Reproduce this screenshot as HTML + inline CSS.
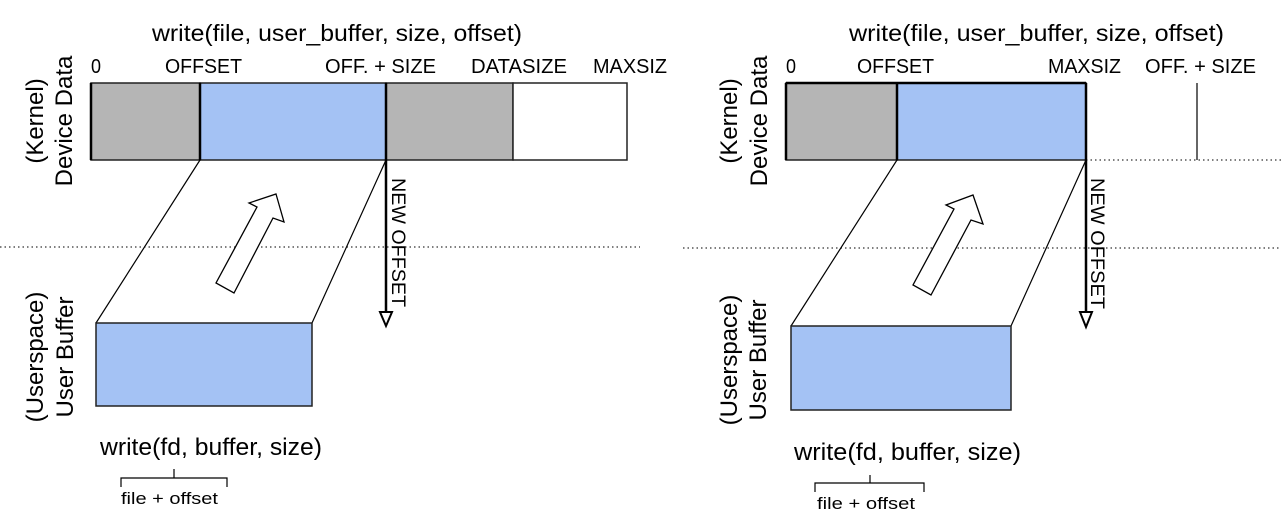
<!DOCTYPE html>
<html><head><meta charset="utf-8">
<style>
html,body{margin:0;padding:0;background:#fff;}
svg{display:block;font-family:"Liberation Sans",Arial,sans-serif;}
</style></head>
<body>
<svg width="1281" height="522" viewBox="0 0 1281 522">
<line x1="0" y1="247" x2="640" y2="247" stroke="#333" stroke-width="1.2" stroke-dasharray="1.5,3"/>
<line x1="683" y1="248" x2="1281" y2="248" stroke="#333" stroke-width="1.2" stroke-dasharray="1.5,3"/>
<line x1="1086" y1="160" x2="1281" y2="160" stroke="#333" stroke-width="1.2" stroke-dasharray="1.5,3"/>

<g>
<text x="152" y="41" font-size="23" textLength="370" lengthAdjust="spacingAndGlyphs">write(file, user_buffer, size, offset)</text>
<g font-size="20">
<text x="91" y="73" textLength="10" lengthAdjust="spacingAndGlyphs">0</text>
<text x="165" y="73" textLength="77" lengthAdjust="spacingAndGlyphs">OFFSET</text>
<text x="325" y="73" textLength="111" lengthAdjust="spacingAndGlyphs">OFF. + SIZE</text>
<text x="471" y="73" textLength="96" lengthAdjust="spacingAndGlyphs">DATASIZE</text>
<text x="593" y="73" textLength="74" lengthAdjust="spacingAndGlyphs">MAXSIZ</text>
</g>
<rect x="91" y="83" width="109" height="77" fill="#b5b5b5" stroke="#222" stroke-width="1.5"/>
<rect x="200" y="83" width="186" height="77" fill="#a4c2f4" stroke="#222" stroke-width="1.5"/>
<rect x="386" y="83" width="127" height="77" fill="#b5b5b5" stroke="#222" stroke-width="1.5"/>
<rect x="513" y="83" width="114" height="77" fill="#fff" stroke="#222" stroke-width="1.5"/>
<line x1="91" y1="83" x2="91" y2="160" stroke="#000" stroke-width="2.5"/>
<line x1="200" y1="83" x2="200" y2="160" stroke="#000" stroke-width="2.5"/>
<text transform="translate(43,121) rotate(-90)" font-size="24" text-anchor="middle">(Kernel)</text>
<text transform="translate(72,121) rotate(-90)" font-size="24" text-anchor="middle">Device Data</text>
<line x1="200" y1="160" x2="96" y2="323" stroke="#000" stroke-width="1.2"/>
<line x1="386" y1="160" x2="312" y2="323" stroke="#000" stroke-width="1.2"/>
<rect x="96" y="323" width="216" height="83" fill="#a4c2f4" stroke="#222" stroke-width="1.5"/>
<text transform="translate(43,357) rotate(-90)" font-size="24" text-anchor="middle">(Userspace)</text>
<text transform="translate(73,357) rotate(-90)" font-size="24" text-anchor="middle">User Buffer</text>
<polygon points="276,194 284,222 273,218 234,293 216,283 257,207 249,203" fill="#fff" stroke="#000" stroke-width="1.3"/>
<line x1="386" y1="83" x2="386" y2="313" stroke="#000" stroke-width="2.5"/>
<polygon points="380,312 392,312 386,326" fill="#fff" stroke="#000" stroke-width="2"/>
<text transform="translate(392,178) rotate(90)" font-size="19" textLength="129" lengthAdjust="spacingAndGlyphs">NEW OFFSET</text>
<text x="100" y="455" font-size="24" textLength="222" lengthAdjust="spacingAndGlyphs">write(fd, buffer, size)</text>
<path d="M121,487 V478 H174 V469 M174,478 H227 V487" fill="none" stroke="#000" stroke-width="1.2"/>
<text x="121" y="504" font-size="17" textLength="97" lengthAdjust="spacingAndGlyphs">file + offset</text>
</g>

<g>
<text x="849" y="41" font-size="23" textLength="375" lengthAdjust="spacingAndGlyphs">write(file, user_buffer, size, offset)</text>
<g font-size="20">
<text x="786" y="73" textLength="10" lengthAdjust="spacingAndGlyphs">0</text>
<text x="857" y="73" textLength="77" lengthAdjust="spacingAndGlyphs">OFFSET</text>
<text x="1048" y="73" textLength="73" lengthAdjust="spacingAndGlyphs">MAXSIZ</text>
<text x="1145" y="73" textLength="111" lengthAdjust="spacingAndGlyphs">OFF. + SIZE</text>
</g>
<line x1="1197" y1="83" x2="1197" y2="160" stroke="#000" stroke-width="1.2"/>
<rect x="786" y="83" width="111" height="77" fill="#b5b5b5" stroke="#222" stroke-width="1.5"/>
<rect x="897" y="83" width="189" height="77" fill="#a4c2f4" stroke="#222" stroke-width="1.5"/>
<line x1="786" y1="83" x2="786" y2="160" stroke="#000" stroke-width="2.5"/>
<line x1="897" y1="83" x2="897" y2="160" stroke="#000" stroke-width="2.5"/>
<line x1="786" y1="83" x2="1086" y2="83" stroke="#000" stroke-width="2.5"/>
<text transform="translate(737,121) rotate(-90)" font-size="24" text-anchor="middle">(Kernel)</text>
<text transform="translate(767,121) rotate(-90)" font-size="24" text-anchor="middle">Device Data</text>
<line x1="897" y1="160" x2="791" y2="326" stroke="#000" stroke-width="1.2"/>
<line x1="1086" y1="160" x2="1011" y2="326" stroke="#000" stroke-width="1.2"/>
<rect x="791" y="326" width="220" height="84" fill="#a4c2f4" stroke="#222" stroke-width="1.5"/>
<text transform="translate(737,360) rotate(-90)" font-size="24" text-anchor="middle">(Userspace)</text>
<text transform="translate(766,360) rotate(-90)" font-size="24" text-anchor="middle">User Buffer</text>
<polygon points="973,195 983,224 971,220 931,295 913,285 954,209 946,205" fill="#fff" stroke="#000" stroke-width="1.3"/>
<line x1="1086" y1="83" x2="1086" y2="313" stroke="#000" stroke-width="2.5"/>
<polygon points="1080,312 1092,312 1086,327" fill="#fff" stroke="#000" stroke-width="2"/>
<text transform="translate(1091,178) rotate(90)" font-size="19" textLength="131" lengthAdjust="spacingAndGlyphs">NEW OFFSET</text>
<text x="794" y="460" font-size="24" textLength="227" lengthAdjust="spacingAndGlyphs">write(fd, buffer, size)</text>
<path d="M815,492 V483 H870 V475 M870,483 H924 V492" fill="none" stroke="#000" stroke-width="1.2"/>
<text x="817" y="509" font-size="17" textLength="98" lengthAdjust="spacingAndGlyphs">file + offset</text>
</g>
</svg>
</body></html>
